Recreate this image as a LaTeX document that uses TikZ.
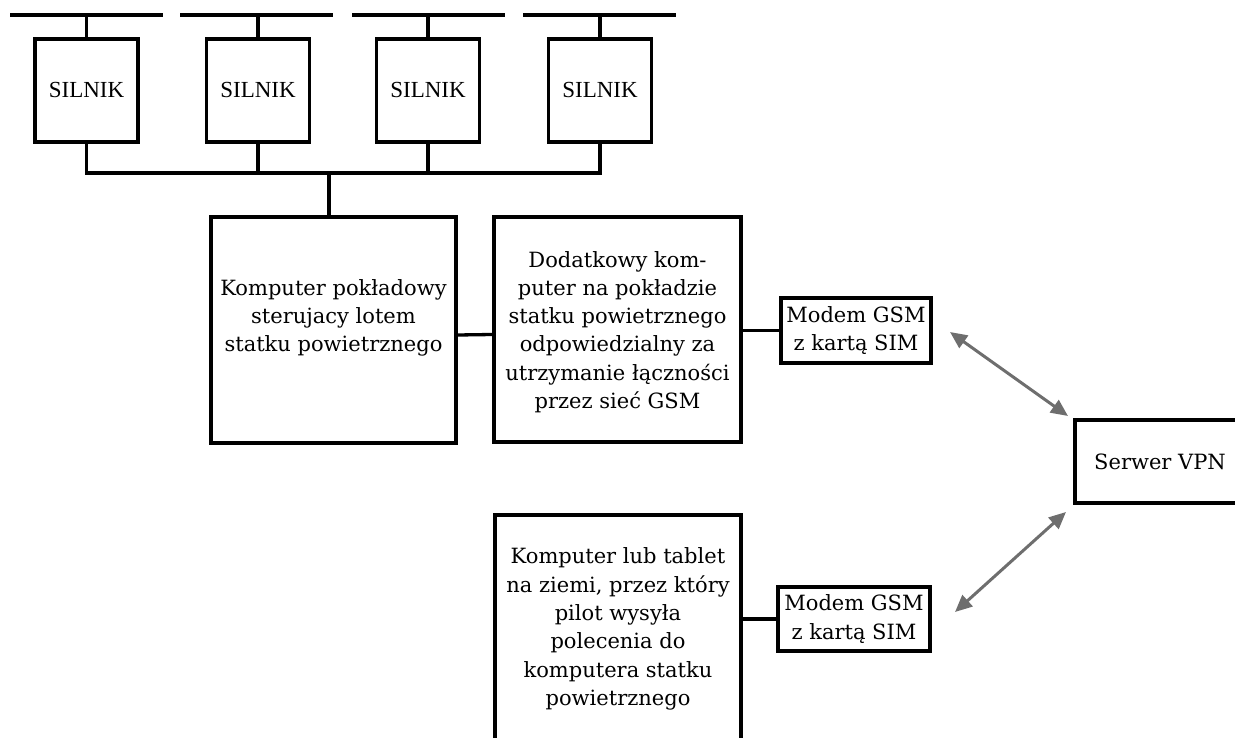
\documentclass[tikz,border=0pt]{standalone}
\usepackage{fontspec}
\setmainfont{DejaVu Serif}
\newfontfamily\silnikfont{Liberation Serif}
\usetikzlibrary{arrows.meta}
\definecolor{arrowgray}{HTML}{6E6E6E}
\tikzset{
  box/.style={draw=black, line width=3.3pt, inner sep=0pt, align=center, font=\fontsize{21}{28.3}\selectfont},
  txt/.style={inner sep=0pt, align=center, font=\fontsize{21}{28.3}\selectfont},
  engine/.style={box, minimum width=103pt, minimum height=103pt, font=\silnikfont\fontsize{23}{27}\selectfont},
  wire/.style={line width=3.3pt, black},
  link/.style={line width=3pt, arrowgray, {Triangle[length=17pt,width=15pt]}-{Triangle[length=17pt,width=15pt]}}
}
\begin{document}
\begin{tikzpicture}[x=1pt,y=-1pt]
\useasboundingbox (0,0) rectangle (1235,738);
\clip (0,0) rectangle (1235,738);
% engines
\node[engine] (s1) at (86.5,90.5) {\raisebox{2pt}{SILNIK}};
\node[engine] (s2) at (258,90.5) {\raisebox{2pt}{SILNIK}};
\node[engine] (s3) at (428,90.5) {\raisebox{2pt}{SILNIK}};
\node[engine] (s4) at (600,90.5) {\raisebox{2pt}{SILNIK}};
% top bars
\draw[wire] (10,15) -- (163,15);
\draw[wire] (180,15) -- (333,15);
\draw[wire] (352,15) -- (505,15);
\draw[wire] (523,15) -- (676,15);
\foreach \n in {s1,s2,s3,s4} {\draw[wire] (\n.north) -- (\n.north |- 0,15);}
% lower bus
\coordinate (j) at (329,173);
\draw[wire] (s1.south) -- (s1.south |- j) -- (s4.south |- j) -- (s4.south);
\draw[wire] (s2.south) -- (s2.south |- j);
\draw[wire] (s3.south) -- (s3.south |- j);
% main boxes
\node[box, minimum width=245pt, minimum height=226pt] (k1) at (333.5,330) {};
\node[txt] (k1t) at ([yshift=12pt]k1.center)
  {Komputer pokładowy\\sterujacy lotem\\statku powietrznego};
\node[box, minimum width=247pt, minimum height=225pt] (k2) at (617.5,329.5) {};
\node[txt] (k2t) at ([yshift=-2.5pt]k2.center)
  {Dodatkowy kom-\\puter na pokładzie\\statku powietrznego\\odpowiedzialny za\\utrzymanie łączności\\przez sieć GSM};
\draw[wire] (j) -- (j |- k1.north);
\draw[wire] ([yshift=-5pt]k1.east) -- ([yshift=-5pt]k2.west);
\node[box, minimum width=150pt, minimum height=65pt] (m1) at (856,330.5)
  {Modem GSM\\z kartą SIM};
\draw[wire] (k2.east |- m1.west) -- (m1.west);
\node[box, minimum width=170pt, minimum height=83pt] (srv) at (1160,461.5) {Serwer VPN};
\node[box, minimum width=246pt, minimum height=226pt] (k3) at (618,628) {};
\node[txt] (k3t) at ([yshift=-1pt]k3.center)
  {Komputer lub tablet\\na ziemi, przez który\\pilot wysyła\\polecenia do\\komputera statku\\powietrznego};
\node[box, minimum width=152pt, minimum height=64pt] (m2) at (854,619)
  {Modem GSM\\z kartą SIM};
\draw[wire] (k3.east |- m2.west) -- (m2.west);
% radio links
\coordinate (a1s) at (950,332);
\coordinate (a1e) at (1068,416);
\coordinate (a2s) at (1066,512);
\coordinate (a2e) at (955,612);
\draw[link] (a1s) -- (a1e);
\draw[link] (a2s) -- (a2e);
\end{tikzpicture}
\end{document}
